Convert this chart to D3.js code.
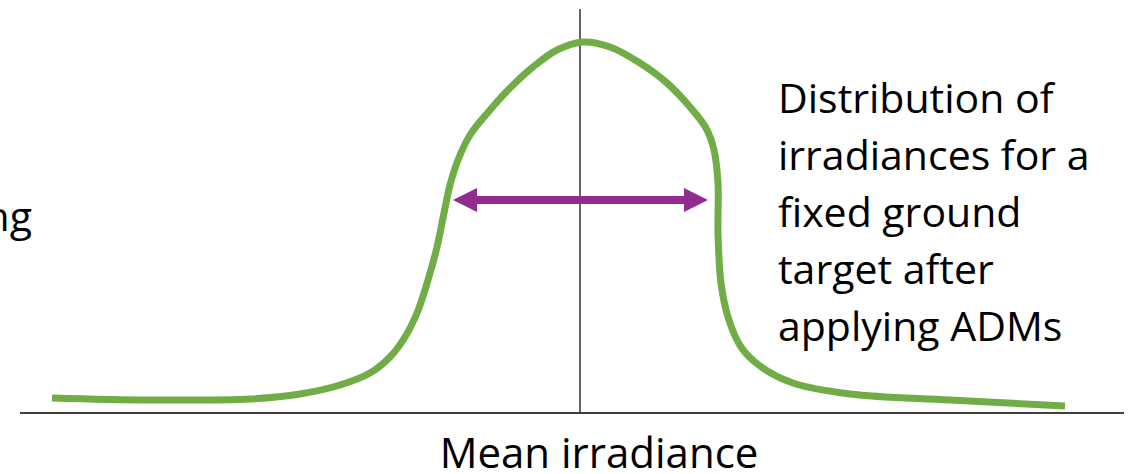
<!DOCTYPE html>
<html>
<head>
<meta charset="utf-8">
<script src="https://cdn.jsdelivr.net/npm/d3@7"></script>
<style>
  html, body { margin: 0; padding: 0; background: #fff; }
  svg text { font-family: "Open Sans", "Lato", sans-serif; fill: #000; }
</style>
</head>
<body>
<div id="chart"></div>
<script>
// irradiance (x) and frequency (y) samples of the hand drawn distribution
var irradiance = [52, 150, 250, 300, 340, 370, 390, 405, 417, 428, 437, 444, 450, 458, 470, 490, 510, 533, 557, 583,
                  610, 640, 667, 690, 706, 714, 718, 718, 721, 728, 741, 760, 793, 850, 950, 1065];
var frequency  = [15, 13, 14, 19, 28, 40, 56, 76, 100, 133, 166, 200, 228, 253, 278, 303, 325, 346, 363, 371,
                  366, 350, 330, 306, 285, 263, 230, 180, 130, 96, 66, 47, 30, 19, 13, 7];
var meanIrradiance = 580;
var axisExtent = [20, 1124];
var spread = [453, 708];   // purple double arrow ends
var spreadLevel = 213;
var labelLines = ['Distribution of', 'irradiances for a', 'fixed ground', 'target after', 'applying ADMs'];
var xLabel = 'Mean irradiance';
var leftLabel = 'ng';

var width = 1130,
    height = 474;

var x = d3.scaleLinear().domain([0, 1130]).range([0, 1130]);
var y = d3.scaleLinear().domain([0, 400]).range([413, 13]);

var svg = d3.select('#chart').append('svg')
    .attr('width', width)
    .attr('height', height);

// baseline
svg.append('line')
    .attr('x1', x(axisExtent[0])).attr('x2', x(axisExtent[1]))
    .attr('y1', y(0)).attr('y2', y(0))
    .style('stroke', '#000')
    .style('stroke-width', 1.6);

// mean marker
svg.append('line')
    .attr('x1', x(meanIrradiance)).attr('x2', x(meanIrradiance))
    .attr('y1', y(0)).attr('y2', y(404))
    .style('stroke', '#222')
    .style('stroke-width', 1.4);

// distribution curve
var pts = irradiance.map(function(v, i) { return [v, frequency[i]]; });
var line = d3.line()
    .x(function(d) { return x(d[0]); })
    .y(function(d) { return y(d[1]); })
    .curve(d3.curveCatmullRom.alpha(0.5));

svg.append('path')
    .datum(pts)
    .attr('d', line)
    .style('fill', 'none')
    .style('stroke', '#70AD47')
    .style('stroke-width', 7)
    .style('stroke-linejoin', 'round');

// spread arrow
var purple = '#922B90',
    headLen = 24,
    headHalf = 12,
    ay = y(spreadLevel);
svg.append('line')
    .attr('x1', x(spread[0]) + headLen - 2).attr('x2', x(spread[1]) - headLen + 2)
    .attr('y1', ay).attr('y2', ay)
    .style('stroke', purple)
    .style('stroke-width', 8);
svg.append('path')
    .attr('d', 'M' + x(spread[0]) + ',' + ay +
               'L' + (x(spread[0]) + headLen) + ',' + (ay - headHalf) +
               'L' + (x(spread[0]) + headLen) + ',' + (ay + headHalf) + 'Z')
    .style('fill', purple);
svg.append('path')
    .attr('d', 'M' + x(spread[1]) + ',' + ay +
               'L' + (x(spread[1]) - headLen) + ',' + (ay - headHalf) +
               'L' + (x(spread[1]) - headLen) + ',' + (ay + headHalf) + 'Z')
    .style('fill', purple);

// annotation
var fontSize = 41;
svg.append('text')
    .attr('x', 778)
    .attr('y', 113)
    .style('font-size', fontSize + 'px')
    .selectAll('tspan')
    .data(labelLines)
    .enter().append('tspan')
    .attr('x', 778)
    .attr('dy', function(d, i) { return i ? 57 : 0; })
    .text(function(d) { return d; });

svg.append('text')
    .attr('x', 599)
    .attr('y', 468)
    .attr('text-anchor', 'middle')
    .style('font-size', '42px')
    .text(xLabel);

svg.append('text')
    .attr('x', 32)
    .attr('y', 231)
    .attr('text-anchor', 'end')
    .style('font-size', fontSize + 'px')
    .text(leftLabel);
</script>
</body>
</html>
